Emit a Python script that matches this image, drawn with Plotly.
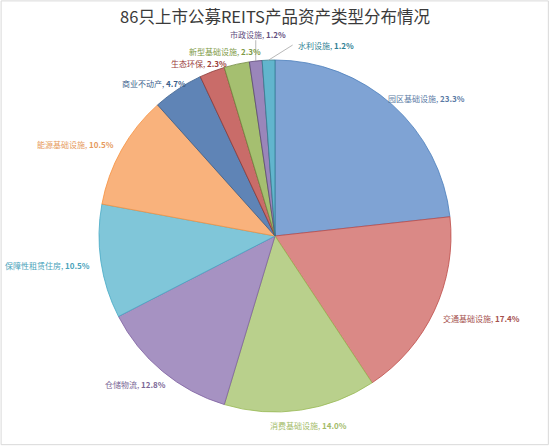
import math
import plotly.graph_objects as go

# data
categories = ["园区基础设施", "交通基础设施", "消费基础设施", "仓储物流", "保障性租赁住房",
              "能源基础设施", "商业不动产", "生态环保", "新型基础设施", "市政设施", "水利设施"]
counts = [20, 15, 12, 11, 9, 9, 4, 2, 2, 1, 1]
title_text = "86只上市公募REITS产品资产类型分布情况"

# styles
slice_colors = ["#7fa3d4", "#da8986", "#b9d08c", "#a692c2", "#80c6d9", "#f9b27c",
                "#5f84b6", "#c96c69", "#a5bf70", "#9a86ba", "#62b5cd"]
edge_colors = ["#4a7ebb", "#be4b48", "#98b954", "#7d60a0", "#46aac5", "#f69240",
               "#385d8a", "#8c3836", "#71893f", "#5c4776", "#357d91"]
label_colors = ["#5a7aa5", "#a5504d", "#a3bb68", "#7b6796", "#4aa3bb", "#e69a5c",
                "#3c5f8c", "#9a3e3b", "#7d9945", "#624e7e", "#2f7f94"]

W, H = 550, 446
CX, CY, R = 275, 236, 176
GAP = 5
# per-label adjustments (angle deg, radius px) for Excel-like best fit
label_tweak = {"园区基础设施": (6, -8), "交通基础设施": (-3.4, 4), "消费基础设施": (-1.7, 0),
               "仓储物流": (3.4, -2), "保障性租赁住房": (1, 7), "能源基础设施": (-4.7, 2),
               "商业不动产": (-5, -11), "生态环保": (-3, -9.5),
               "新型基础设施": (-2.5, -4.5), "市政设施": (1.5, 14), "水利设施": (17, 4)}
leader = {"市政设施", "水利设施"}


def px(x):
    return x / W


def py(y):
    return 1 - y / H


total = sum(counts)
fig = go.Figure(go.Pie(
    labels=categories,
    values=counts,
    sort=False,
    direction="clockwise",
    rotation=0,
    textinfo="none",
    hoverinfo="skip",
    marker=dict(colors=slice_colors, line=dict(color=edge_colors, width=0.8)),
    domain=dict(x=[px(CX - R), px(CX + R)], y=[py(CY + R), py(CY - R)]),
    showlegend=False,
))

annotations = []
shapes = []
cum = 0
for name, val, col in zip(categories, counts, label_colors):
    pct = val / total * 100
    mid = (cum + val / 2) / total * 360
    cum += val
    da, dr = label_tweak.get(name, (0, 0))
    ang = math.radians(mid + da)
    hw = (len(name) * 7.6 + 30) / 2
    hh = 5
    r = R + GAP + hw * abs(math.sin(ang)) + hh * abs(math.cos(ang)) + dr
    lx = CX + r * math.sin(ang)
    ly = CY - r * math.cos(ang)
    annotations.append(dict(
        x=px(lx), y=py(ly), xref="paper", yref="paper",
        xanchor="center", yanchor="middle", showarrow=False,
        text=f"{name}, <b>{pct:.1f}%</b>",
        font=dict(size=8, color=col, family="Noto Sans CJK SC"),
    ))
    if name in leader:
        ma = math.radians(mid)
        ex = CX + R * math.sin(ma)
        ey = CY - R * math.cos(ma)
        if lx - hw <= ex <= lx + hw:
            tx, ty = ex, ly + hh + 1
        else:
            tx, ty = lx - hw - 3, ly
        shapes.append(dict(type="line", xref="paper", yref="paper",
                           x0=px(ex), y0=py(ey), x1=px(tx), y1=py(ty),
                           line=dict(color="#a6a6a6", width=0.8)))

# outer chart frame
shapes.append(dict(type="rect", xref="paper", yref="paper", x0=0.002, y0=0.003, x1=0.997, y1=0.998,
                   line=dict(color="#d9d9d9", width=1)))

fig.update_layout(
    width=W, height=H,
    margin=dict(l=0, r=0, t=0, b=0),
    paper_bgcolor="#FFFFFF",
    plot_bgcolor="#FFFFFF",
    title=dict(text=title_text, x=0.5, xanchor="center", y=py(17.5), yanchor="middle",
               font=dict(size=16.5, color="#3a3a3a", family="Noto Sans CJK SC")),
    annotations=annotations,
    shapes=shapes,
)

# drop the default page margin so the figure sits at the window origin
fig.write_html("out.html", config={"displayModeBar": False},
               post_script="document.body.style.margin='0';")
